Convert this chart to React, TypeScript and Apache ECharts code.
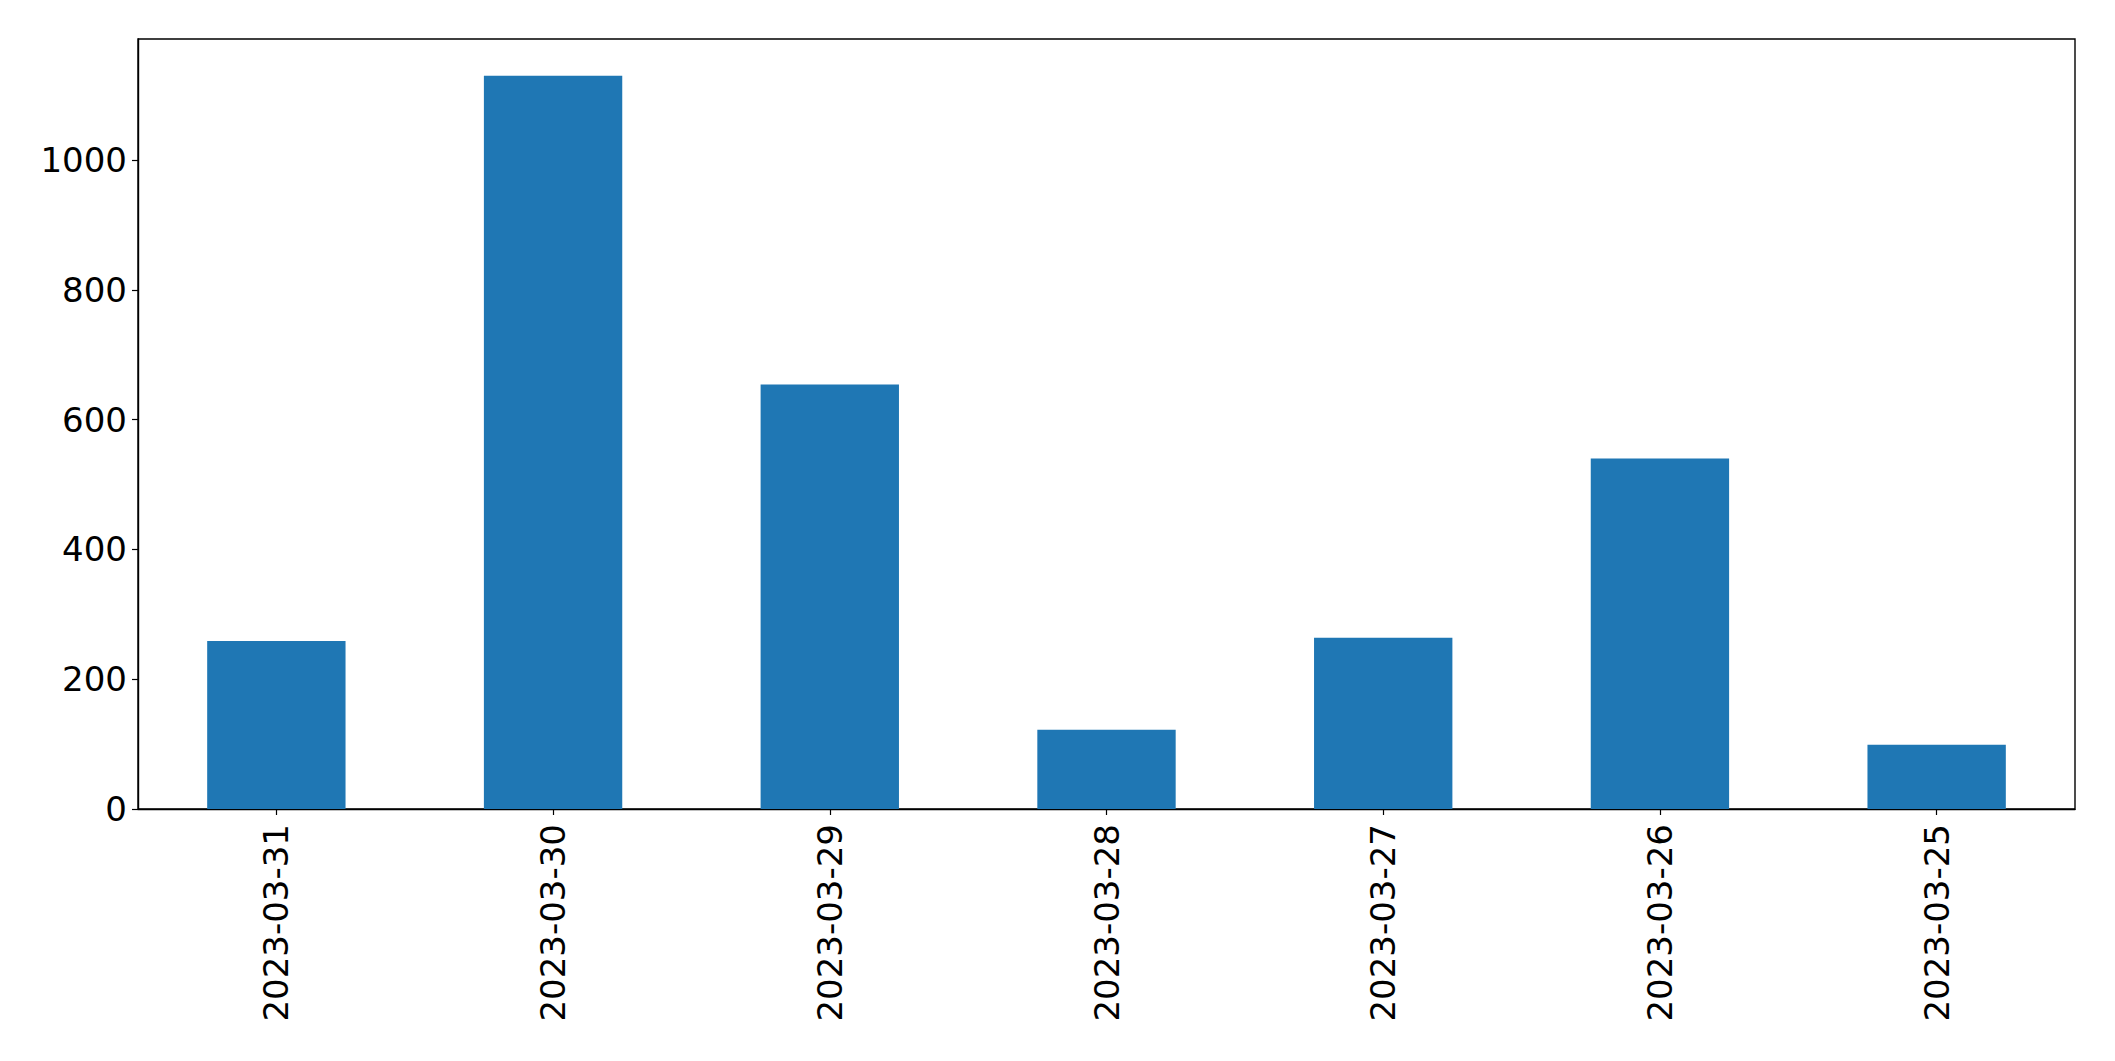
import React, { useEffect, useRef } from "react";
import * as echarts from "echarts";

const categories = [
  "2023-03-31",
  "2023-03-30",
  "2023-03-29",
  "2023-03-28",
  "2023-03-27",
  "2023-03-26",
  "2023-03-25",
];
const values = [259, 1130, 654, 122, 264, 540, 99];
const yTicks = [0, 200, 400, 600, 800, 1000];
const yMax = 1186.5;

export default function App() {
  const ref = useRef<HTMLDivElement>(null);
  useEffect(() => {
    if (!ref.current) return;
    const chart = echarts.init(ref.current, null, { renderer: "svg" });
    const font = {
      fontFamily: "DejaVu Sans",
      fontSize: 34,
      color: "#000",
    };
    chart.setOption({
      animation: false,
      backgroundColor: "#fff",
      grid: {
        left: 138,
        top: 39,
        width: 1937,
        height: 770,
        show: true,
        borderColor: "#000",
        borderWidth: 1.4,
        backgroundColor: "transparent",
      },
      xAxis: {
        type: "category",
        data: categories,
        boundaryGap: true,
        axisLine: { show: true, lineStyle: { color: "#000", width: 1.4 } },
        axisTick: {
          show: true,
          alignWithLabel: true,
          length: 6,
          lineStyle: { color: "#000", width: 1.2 },
        },
        axisLabel: { ...font, rotate: 90, margin: 15, interval: 0 },
        splitLine: { show: false },
      },
      yAxis: {
        type: "value",
        min: 0,
        max: yMax,
        interval: 200,
        axisLine: { show: true, lineStyle: { color: "#000", width: 1.4 } },
        axisTick: {
          show: true,
          length: 6,
          customValues: yTicks,
          lineStyle: { color: "#000", width: 1.2 },
        },
        axisLabel: {
          ...font,
          margin: 11,
          customValues: yTicks,
          formatter: (v: number) => String(v),
        },
        splitLine: { show: false },
      },
      series: [
        {
          type: "bar",
          data: values,
          barWidth: "50%",
          itemStyle: { color: "#1f77b4" },
        },
      ],
    });
    return () => chart.dispose();
  }, []);
  return (
    <div
      ref={ref}
      style={{ position: "absolute", left: 0, top: 0, width: 2115, height: 1061 }}
    />
  );
}
